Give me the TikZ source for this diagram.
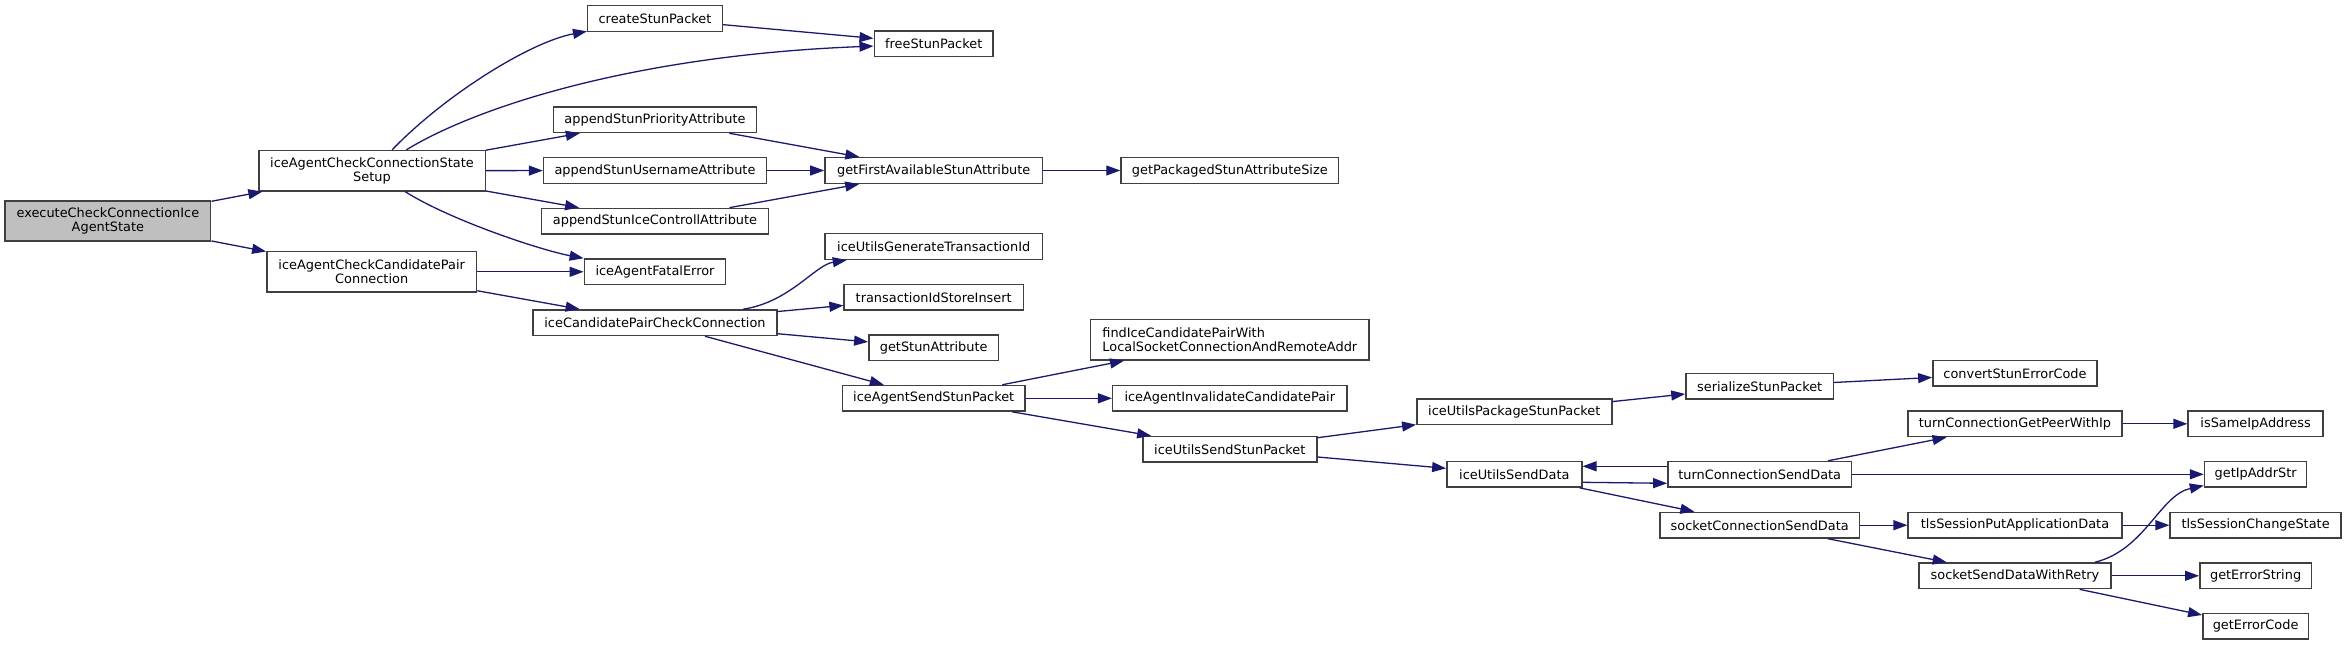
\documentclass[tikz,border=0pt]{standalone}
\usepackage{fontspec}
\setmainfont{DejaVu Sans}
\usetikzlibrary{arrows.meta,calc}
\definecolor{mblue}{HTML}{191970}
\definecolor{boxline}{HTML}{404040}
\definecolor{rootfill}{HTML}{BFBFBF}
\begin{document}
\begin{tikzpicture}[x=1pt,y=-1pt,
  box/.style={draw=boxline, line width=1.5pt, fill=white, inner sep=0pt,
    minimum height=25.6pt, font=\fontsize{12.9}{14}\selectfont, align=center},
  dbl/.style={minimum height=40.3pt},
  root/.style={fill=rootfill},
  edge/.style={draw=mblue, line width=1.3pt, -{Triangle[length=14pt,width=10pt]}},
]
\useasboundingbox (0,0) rectangle (2347,645);

% rank 0
\node[box,dbl,root,minimum width=205.6pt] (exec) at (107.9,221) {executeCheckConnectionIce\\AgentState};
% rank 1
\node[box,dbl,minimum width=226.5pt] (setup) at (372,170.7) {iceAgentCheckConnectionState\\Setup};
\node[box,dbl,minimum width=209.7pt] (cand) at (371.7,271.8) {iceAgentCheckCandidatePair\\Connection};
% rank 2
\node[box,minimum width=134.6pt] (create) at (655,18.5) {createStunPacket};
\node[box,minimum width=203pt] (prio) at (655,119.7) {appendStunPriorityAttribute};
\node[box,minimum width=222.9pt] (user) at (655,170.5) {appendStunUsernameAttribute};
\node[box,minimum width=227.1pt] (ctrl) at (655,221.2) {appendStunIceControllAttribute};
\node[box,minimum width=141.3pt] (fatal) at (655,271.8) {iceAgentFatalError};
\node[box,minimum width=243.8pt] (pcheck) at (655,322.7) {iceCandidatePairCheckConnection};
% rank 3
\node[box,minimum width=118.9pt] (free) at (933.7,43.8) {freeStunPacket};
\node[box,minimum width=217.5pt] (first) at (933.7,170.5) {getFirstAvailableStunAttribute};
\node[box,minimum width=217.5pt] (gentid) at (933.7,246.5) {iceUtilsGenerateTransactionId};
\node[box,minimum width=179.1pt] (tidins) at (933.7,297.2) {transactionIdStoreInsert};
\node[box,minimum width=129.7pt] (getattr) at (933.7,347.8) {getStunAttribute};
\node[box,minimum width=182.5pt] (sendstun) at (933.7,398.3) {iceAgentSendStunPacket};
% rank 4
\node[box,minimum width=217.6pt] (pkgsize) at (1229.8,170.5) {getPackagedStunAttributeSize};
\node[box,dbl,minimum width=278.4pt,align=left] (findpair) at (1229.8,339.8) {findIceCandidatePairWith\\LocalSocketConnectionAndRemoteAddr};
\node[box,minimum width=234.2pt] (invalid) at (1229.8,398.3) {iceAgentInvalidateCandidatePair};
\node[box,minimum width=173.9pt] (utilsend) at (1229.8,449.3) {iceUtilsSendStunPacket};
% rank 5
\node[box,minimum width=195pt] (package) at (1514.3,411.7) {iceUtilsPackageStunPacket};
\node[box,minimum width=134.9pt] (senddata) at (1514.3,474.3) {iceUtilsSendData};
% rank 6
\node[box,minimum width=147.5pt] (serial) at (1759.7,386.3) {serializeStunPacket};
\node[box,minimum width=183.6pt] (turnsend) at (1759.7,474.3) {turnConnectionSendData};
\node[box,minimum width=199.6pt] (sockconn) at (1759.7,525.2) {socketConnectionSendData};
% rank 7
\node[box,minimum width=164.3pt] (convert) at (2015,373.2) {convertStunErrorCode};
\node[box,minimum width=214.4pt] (getpeer) at (2015,423.8) {turnConnectionGetPeerWithIp};
\node[box,minimum width=213.7pt] (tlsput) at (2015,525.2) {tlsSessionPutApplicationData};
\node[box,minimum width=192.3pt] (retry) at (2015,575.8) {socketSendDataWithRetry};
% rank 8
\node[box,minimum width=135pt] (sameip) at (2255.6,423.8) {isSameIpAddress};
\node[box,minimum width=102.2pt] (ipstr) at (2255.6,474.3) {getIpAddrStr};
\node[box,minimum width=170.9pt] (tlschg) at (2255.6,525.2) {tlsSessionChangeState};
\node[box,minimum width=111.6pt] (errstr) at (2255.6,575.8) {getErrorString};
\node[box,minimum width=105.6pt] (errcode) at (2255.6,626.2) {getErrorCode};

% edges
\draw[edge] (exec) -- (setup);
\draw[edge] (exec) -- (cand);
\draw[edge] (setup) .. controls (445,95) and (530,42) .. (create);
\draw[edge] (setup) .. controls (480,105) and (640,55) .. (free);
\draw[edge] (setup) -- (prio);
\draw[edge] (setup) -- (user);
\draw[edge] (setup) -- (ctrl);
\draw[edge] (setup) .. controls (450,220) and (540,250) .. (fatal);
\draw[edge] (cand) -- (fatal);
\draw[edge] (cand) -- (pcheck);
\draw[edge] (create) -- (free);
\draw[edge] (prio) -- (first);
\draw[edge] (user) -- (first);
\draw[edge] (ctrl) -- (first);
\draw[edge] (first) -- (pkgsize);
\draw[edge] (pcheck) .. controls (790,302) and (815,265) .. (gentid);
\draw[edge] (pcheck) -- (tidins);
\draw[edge] (pcheck) -- (getattr);
\draw[edge] (pcheck) -- (sendstun);
\draw[edge] (sendstun) -- (findpair);
\draw[edge] (sendstun) -- (invalid);
\draw[edge] (sendstun) -- (utilsend);
\draw[edge] (utilsend) -- (package);
\draw[edge] (utilsend) -- (senddata);
\draw[edge] (package) -- (serial);
\draw[edge] (serial) -- (convert);
\draw[edge] ($(senddata.east)+(0,8)$) -- ($(turnsend.west)+(0,9)$);
\draw[edge] ($(turnsend.west)+(0,-8)$) -- ($(senddata.east)+(0,-8)$);
\draw[edge] (senddata) -- (sockconn);
\draw[edge] (turnsend) -- (getpeer);
\draw[edge] (turnsend) -- (ipstr);
\draw[edge] (getpeer) -- (sameip);
\draw[edge] (sockconn) -- (tlsput);
\draw[edge] (sockconn) -- (retry);
\draw[edge] (tlsput) -- (tlschg);
\draw[edge] ($(retry.north east)+(-17,0)$) .. controls (2145,550) and (2160,495) .. (ipstr);
\draw[edge] (retry) -- (errstr);
\draw[edge] (retry) -- (errcode);
\end{tikzpicture}
\end{document}
